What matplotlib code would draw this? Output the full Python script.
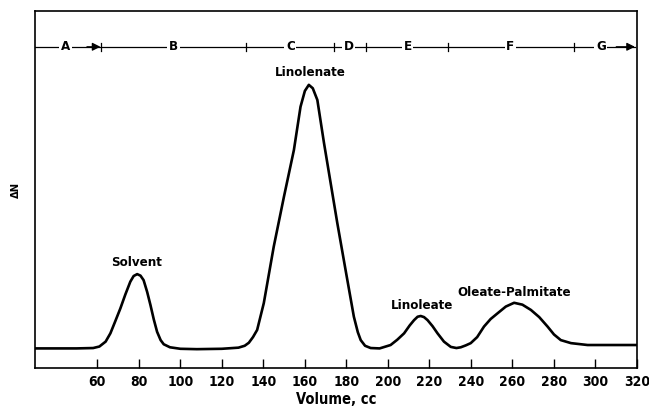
import matplotlib
matplotlib.use("Agg")
import matplotlib.pyplot as plt

# ---- data ----
volume = [30, 50, 58, 61, 64, 66.3, 68.5, 71.1, 73.5, 75.9, 77.5, 79.2, 80.8, 82.3, 84, 85.6,
          87.2, 88.8, 90.5, 92.0, 95, 100, 108, 120, 128, 131, 133, 135, 137, 140.2, 145,
          149.9, 154.7, 157.9, 160, 161.9, 163.8, 166, 169.2, 172.4, 175.6, 179.6, 183.6,
          185.5, 186.9, 189, 191.7, 196, 201.3, 204.5, 207.8, 210.5, 212.6, 214.3, 215.8,
          217.4, 219.1, 221.5, 223.9, 227, 230.3, 233, 235.1, 237.5, 239.9, 243, 246.3,
          249.5, 252.8, 256.8, 260.8, 264.8, 268.9, 272.9, 276.9, 280, 283.3, 288.2, 296.2,
          310, 320]
delta_n = [10.5, 10.5, 10.6, 11.0, 12.3, 14.5, 17.5, 21.1, 24.8, 28.2, 29.7, 30.2, 29.8, 28.6,
           25.5, 22.0, 18.2, 14.9, 12.7, 11.6, 10.8, 10.4, 10.3, 10.4, 10.7, 11.2, 12.0, 13.5,
           15.4, 22.5, 37.5, 50.7, 63.1, 74.6, 78.8, 80.4, 79.5, 76.4, 65.0, 54.4, 43.8, 31.3,
           18.9, 14.8, 12.7, 11.2, 10.6, 10.5, 11.4, 12.8, 14.5, 16.6, 18.0, 18.9, 19.1, 18.8,
           18.0, 16.4, 14.5, 12.3, 10.9, 10.6, 10.8, 11.3, 11.9, 13.5, 16.3, 18.3, 19.8, 21.6,
           22.6, 22.1, 20.7, 18.8, 16.3, 14.2, 12.7, 11.9, 11.4, 11.4, 11.4]

peak_names = ["Solvent", "Linolenate", "Linoleate", "Oleate-Palmitate"]
peak_x = [79, 162.8, 216.6, 260.7]
peak_label_y = [33.2, 83.8, 22.0, 25.2]

region_names = ["A", "B", "C", "D", "E", "F", "G"]
region_label_x = [44.6, 96.7, 153, 181, 209.5, 259, 302.6]
region_bounds = [62, 131.4, 173.8, 189.3, 228.8, 289.6]
region_line_y = 90.5
region_start, region_end = 30, 319

x_ticks = [60, 80, 100, 120, 140, 160, 180, 200, 220, 240, 260, 280, 300, 320]

# ---- drawing ----
plt.rcParams['font.family'] = ['DejaVu Sans']
plt.rcParams['font.stretch'] = 'condensed'
fig = plt.figure(figsize=(6.49, 4.09), dpi=100)
ax = fig.add_axes([0.054, 0.1002, 0.9275, 0.873])
ax.set_xlim(30, 320)
ax.set_ylim(5.3, 100)

ax.plot(volume, delta_n, color='black', lw=1.9, solid_joinstyle='round')

for name, x, y in zip(peak_names, peak_x, peak_label_y):
    ax.text(x, y, name, ha='center', va='center', fontsize=9.5, fontweight='bold',
            fontstretch='condensed')

# region line
ax.plot([region_start, region_end], [region_line_y, region_line_y], color='black', lw=0.9)
for b in region_bounds:
    ax.plot([b, b], [region_line_y - 1.0, region_line_y + 1.0], color='black', lw=0.9)
for name, x in zip(region_names, region_label_x):
    ax.text(x, region_line_y, name, ha='center', va='center', fontsize=9.5, fontweight='bold',
            fontstretch='condensed',
            bbox=dict(facecolor='white', edgecolor='none', pad=1.2))
ax.annotate('', xy=(region_bounds[0] - 0.5, region_line_y), xytext=(55, region_line_y),
            arrowprops=dict(arrowstyle='-|>', color='black', lw=0.9, mutation_scale=12,
                            shrinkA=0, shrinkB=0))
ax.annotate('', xy=(region_end, region_line_y), xytext=(310, region_line_y),
            arrowprops=dict(arrowstyle='-|>', color='black', lw=0.9, mutation_scale=12,
                            shrinkA=0, shrinkB=0))

ax.set_xticks(x_ticks)
ax.set_xticklabels([str(t) for t in x_ticks], fontsize=10, fontweight='bold',
                   fontstretch='condensed')
ax.tick_params(axis='x', direction='in', length=6.5, width=1, pad=5)
ax.set_yticks([])
for s in ax.spines.values():
    s.set_linewidth(1.2)

ax.set_xlabel('Volume, cc', fontsize=10.5, fontweight='bold', fontstretch='condensed',
              labelpad=2)
ax.set_ylabel('ΔN', fontsize=8, fontweight='bold', labelpad=10)

fig.savefig('out.png', dpi=100)
